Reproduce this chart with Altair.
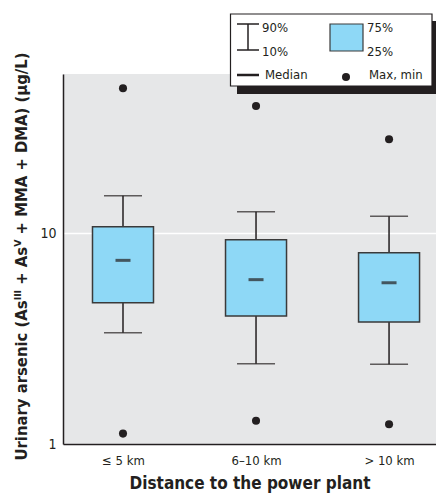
import altair as alt
import pandas as pd

groups = ["≤ 5 km", "6–10 km", "> 10 km"]
p_min = [1.12, 1.29, 1.24]
p10 = [3.37, 2.40, 2.39]
q1 = [4.67, 4.04, 3.79]
median = [7.42, 6.01, 5.81]
q3 = [10.7, 9.29, 8.07]
p90 = [15.0, 12.6, 12.0]
p_max = [48.5, 40.0, 27.8]
y_ticks = [1, 10]

df = pd.DataFrame(dict(group=groups, mn=p_min, p10=p10, q1=q1, med=median,
                       q3=q3, p90=p90, mx=p_max))
pts = pd.concat([
    pd.DataFrame(dict(group=groups, v=p_min)),
    pd.DataFrame(dict(group=groups, v=p_max)),
])

FONT = "Liberation Sans Narrow, DejaVu Sans Condensed, Arial Narrow, sans-serif"
DARK = "#231f20"
BLUE = "#8ed8f6"

x_axis = alt.Axis(title="Distance to the power plant", labelAngle=0, ticks=False,
                  domainColor=DARK, domainWidth=1.5, labelFont=FONT, labelFontSize=13,
                  labelColor=DARK, labelPadding=10, titleFont=FONT, titleFontSize=17,
                  titleFontWeight="bold", titleColor=DARK, titlePadding=8, grid=False,
                  zindex=1)
x_scale = alt.Scale(type="point", padding=0.402, align=0.561)
y_scale = alt.Scale(type="log", domain=[1, 56.7])
y_axis = alt.Axis(title="Urinary arsenic (Asᴵᴵᴵ + Asⱽ + MMA + DMA) (μg/L)", values=y_ticks,
                  format="~g", ticks=False, domainColor=DARK, domainWidth=1.5,
                  labelFont=FONT, labelFontSize=14, labelColor=DARK, labelPadding=7,
                  grid=True, gridColor="white", gridWidth=1.5,
                  titleFont=FONT, titleFontSize=16.5, titleFontWeight="bold", titleColor=DARK,
                  titleX=-37, titleY=182, titleAngle=270, titleAlign="center",
                  titleBaseline="alphabetic", zindex=0)


def X():
    return alt.X("group:N", sort=groups, scale=x_scale, axis=x_axis)


def Y(f):
    return alt.Y(f"{f}:Q", scale=y_scale, axis=y_axis)


base = alt.Chart(df)
stem_lo = base.mark_rule(color=DARK, strokeWidth=1.5).encode(x=X(), y=Y("p10"), y2="q1:Q")
stem_hi = base.mark_rule(color=DARK, strokeWidth=1.5).encode(x=X(), y=Y("q3"), y2="p90:Q")
cap_lo = base.mark_tick(color=DARK, size=38, thickness=1.5).encode(x=X(), y=Y("p10"))
cap_hi = base.mark_tick(color=DARK, size=38, thickness=1.5).encode(x=X(), y=Y("p90"))
box = base.mark_bar(size=61, fill=BLUE, stroke="#3a3a3a", strokeWidth=1.5).encode(
    x=X(), y=Y("q1"), y2="q3:Q")
med = base.mark_tick(color=DARK, size=15, thickness=3).encode(x=X(), y=Y("med"))
dots = alt.Chart(pts).mark_circle(color=DARK, opacity=1, size=65).encode(x=X(), y=Y("v"))

one = pd.DataFrame({"a": [0]})
L = alt.Chart(one)
leg = [
    L.mark_rect(fill=DARK).encode(x=alt.value(174), x2=alt.value(380),
                                  y=alt.value(-53), y2=alt.value(20)),
    L.mark_rect(fill="white", stroke=DARK, strokeWidth=1.2).encode(
        x=alt.value(167.5), x2=alt.value(369), y=alt.value(-60), y2=alt.value(12)),
    L.mark_rule(color=DARK, strokeWidth=1.5).encode(x=alt.value(174), x2=alt.value(196), y=alt.value(-50)),
    L.mark_rule(color=DARK, strokeWidth=1.5).encode(x=alt.value(174), x2=alt.value(196), y=alt.value(-24)),
    L.mark_rule(color=DARK, strokeWidth=1.5).encode(x=alt.value(185), y=alt.value(-50), y2=alt.value(-24)),
    L.mark_rule(color=DARK, strokeWidth=2.5).encode(x=alt.value(174), x2=alt.value(196), y=alt.value(1)),
    L.mark_rect(fill=BLUE, stroke="#3a3a3a", strokeWidth=1.2).encode(
        x=alt.value(267), x2=alt.value(300), y=alt.value(-50), y2=alt.value(-23)),
    L.mark_circle(color=DARK, opacity=1, size=65).encode(x=alt.value(283), y=alt.value(3)),
]
for txt, tx, ty in [("90%", 199, -46), ("10%", 199, -22), ("Median", 202, 1),
                    ("75%", 304, -46), ("25%", 304, -22), ("Max, min", 306, 1)]:
    leg.append(L.mark_text(text=txt, font=FONT, fontSize=13, color=DARK, align="left",
                           baseline="middle").encode(x=alt.value(tx), y=alt.value(ty)))

chart = alt.layer(stem_lo, stem_hi, cap_lo, cap_hi, box, med, dots, *leg).properties(
    width=373, height=370,
    autosize=alt.AutoSizeParams(type="none"),
    padding={"left": 55, "top": 66, "right": 0, "bottom": 50},
    background="white",
).configure_view(fill="#e6e7e8", stroke=None)

chart.save("out.html", embed_options={"renderer": "svg", "actions": False})
